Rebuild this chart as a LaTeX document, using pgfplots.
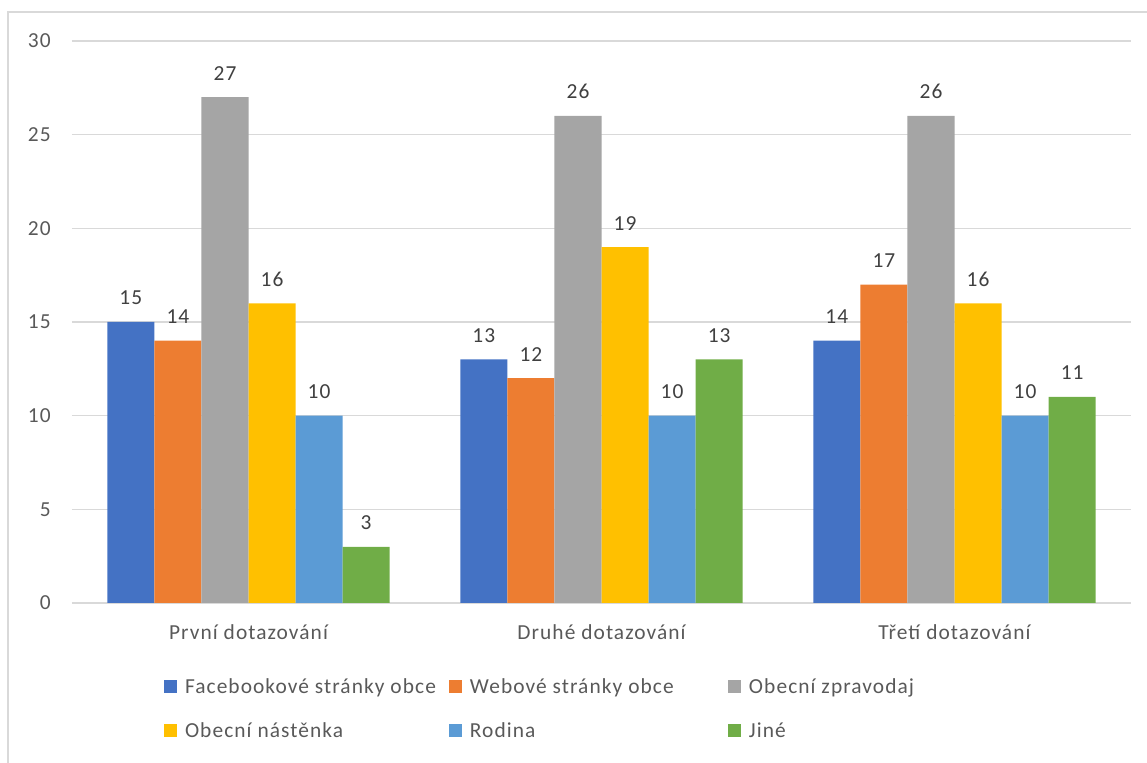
\documentclass[border=0pt]{standalone}
\usepackage{pgfplots}
\pgfplotsset{compat=1.18}
\usepackage{fontspec}
\setmainfont{Carlito}[LetterSpace=5]
\definecolor{c1}{HTML}{4472C4}
\definecolor{c2}{HTML}{ED7D31}
\definecolor{c3}{HTML}{A5A5A5}
\definecolor{c4}{HTML}{FFC000}
\definecolor{c5}{HTML}{5B9BD5}
\definecolor{c6}{HTML}{70AD47}
\definecolor{gridgray}{HTML}{D9D9D9}
\definecolor{textgray}{HTML}{595959}
\definecolor{labelgray}{HTML}{404040}
\begin{document}
\begin{tikzpicture}[font=\fontsize{10.7}{12.8}\selectfont]
\useasboundingbox (-36pt,-80pt) rectangle (537.5pt,301.5pt);
\draw[gridgray, line width=0.75pt] (-32pt,-90pt) -- (-32pt,295.5pt) -- (560pt,295.5pt);
\begin{axis}[
  at={(0,0)}, anchor=south west,
  scale only axis, width=529.5pt, height=281pt,
  xmin=-0.5, xmax=2.5, ymin=0, ymax=30,
  enlargelimits=false,
  ybar=0pt, bar width=23.53pt,
  legend image code/.code={\fill[#1] (0pt,-2.75pt) rectangle (6.5pt,3.75pt);},
  xtick={0,1,2},
  xticklabels={První dotazování, Druhé dotazování, Třetí dotazování},
  ytick={0,5,...,30},
  ymajorgrids, grid style={gridgray, line width=0.75pt},
  axis line style={draw=none},
  major tick length=0pt,
  tick label style={text=textgray, font=\fontsize{10.7}{12.8}\selectfont},
  /pgf/number format/assume math mode=true,
  yticklabel style={anchor=east, inner sep=0pt, xshift=-10.5pt},
  xticklabel style={anchor=base, inner sep=0pt, yshift=-18.5pt},
  nodes near coords,
  nodes near coords style={anchor=base, inner sep=0pt, yshift=8.5pt, text=labelgray, font=\fontsize{10.7}{12.8}\selectfont},
  legend columns=3,
  legend cell align=left,
  legend style={at={(axis description cs:0,0)}, anchor=north west,
    xshift=46pt, yshift=-37.25pt, draw=none, fill=none,
    inner sep=0pt, outer sep=0pt, row sep=11.5pt, column sep=0pt,
    /tikz/every odd column/.style={column sep=4pt},
    nodes={inner sep=0pt, text height=8pt, text depth=2.5pt, text=textgray},
    font=\fontsize{10.7}{12.8}\selectfont},
]
\addplot[fill=c1, draw=none] coordinates {(0,15) (1,13) (2,14)};
\addlegendentry{\makebox[132pt][l]{Facebookové stránky obce}}
\addplot[fill=c2, draw=none] coordinates {(0,14) (1,12) (2,17)};
\addlegendentry{\makebox[129pt][l]{Webové stránky obce}}
\addplot[fill=c3, draw=none] coordinates {(0,27) (1,26) (2,26)};
\addlegendentry{Obecní zpravodaj}
\addplot[fill=c4, draw=none] coordinates {(0,16) (1,19) (2,16)};
\addlegendentry{\makebox[132pt][l]{Obecní nástěnka}}
\addplot[fill=c5, draw=none] coordinates {(0,10) (1,10) (2,10)};
\addlegendentry{\makebox[129pt][l]{Rodina}}
\addplot[fill=c6, draw=none] coordinates {(0,3) (1,13) (2,11)};
\addlegendentry{Jiné}
\end{axis}
\end{tikzpicture}
\end{document}
